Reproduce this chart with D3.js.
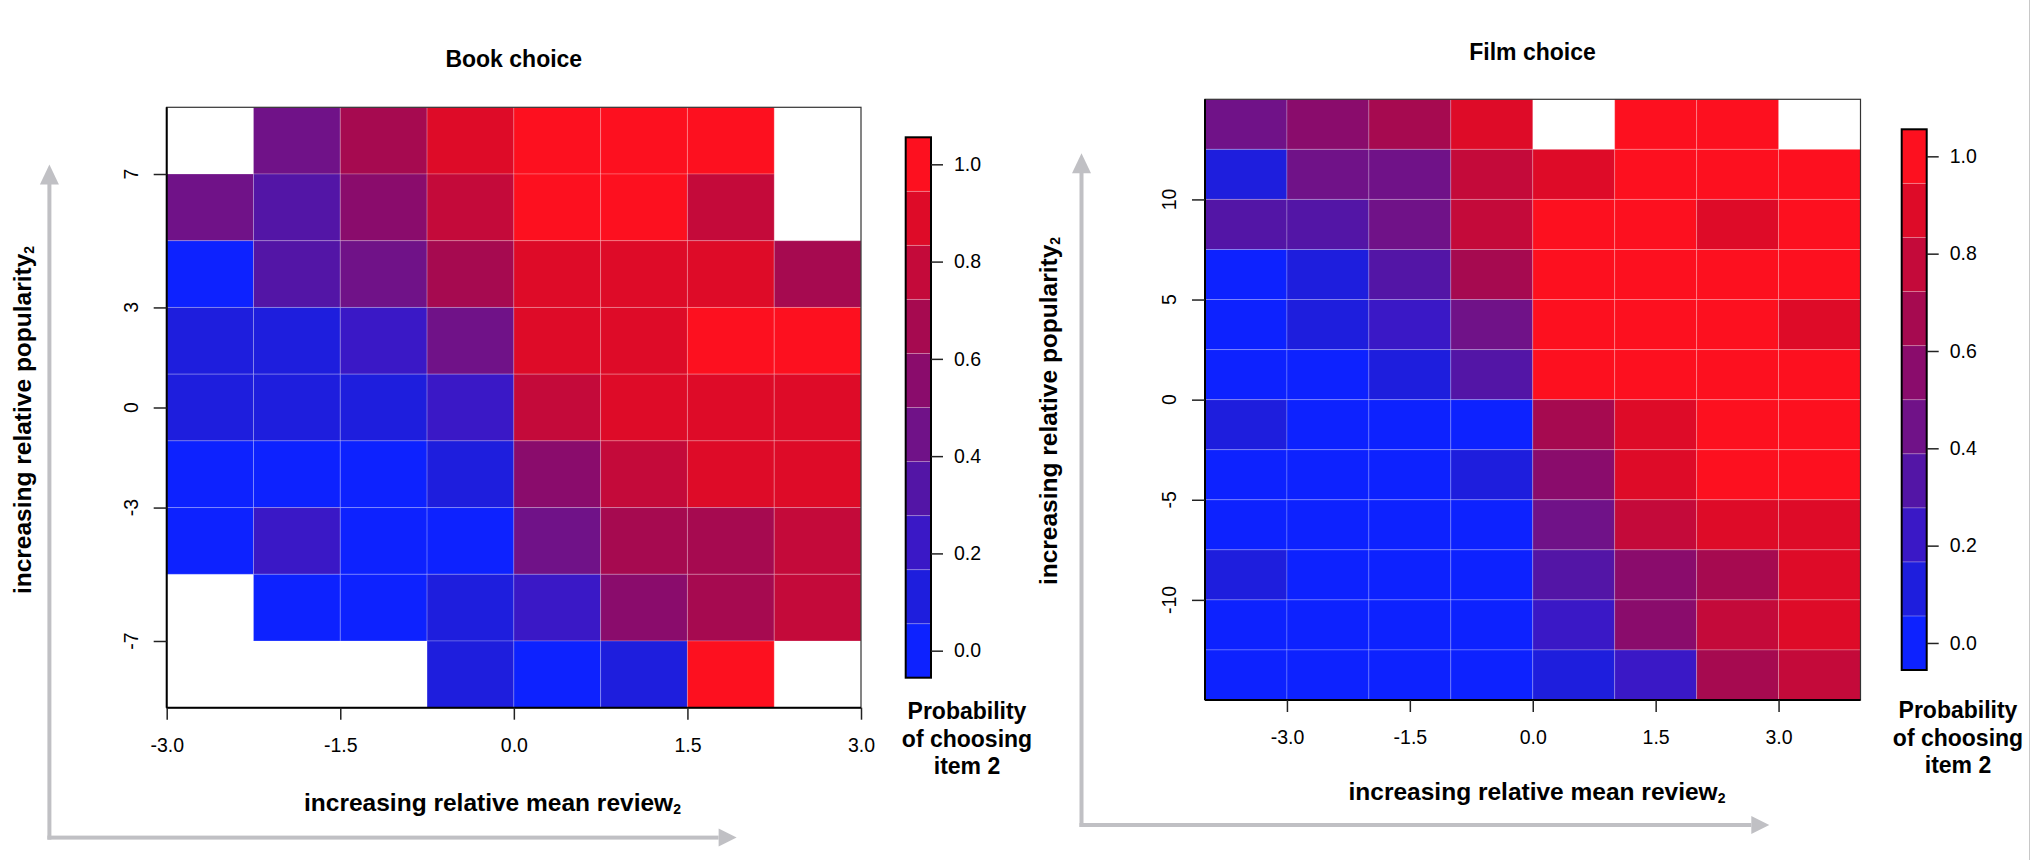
<!DOCTYPE html>
<html>
<head>
<meta charset="utf-8" />
<title>Book and film choice</title>
<script src="https://cdn.jsdelivr.net/npm/d3@7"></script>
<style>
  html, body { margin: 0; padding: 0; background: #fff; }
  svg { display: block; font-family: "Liberation Sans", Arial, Helvetica, sans-serif; }
</style>
</head>
<body>
<svg id="chart" width="2030" height="860"></svg>
<script>
// ---- data (probability of choosing item 2; null = no data) ----
var bookReviewEdges = [-3, -2.25, -1.5, -0.75, 0, 0.75, 1.5, 2.25, 3];
var bookPopularityEdges = [9, 7, 5, 3, 1, -1, -3, -5, -7, -9];
var bookProb = [
  [null, 0.44, 0.67, 0.89, 1.00, 1.00, 1.00, null],
  [0.44, 0.33, 0.56, 0.78, 1.00, 1.00, 0.78, null],
  [0.00, 0.33, 0.44, 0.67, 0.89, 0.89, 0.89, 0.67],
  [0.11, 0.11, 0.22, 0.44, 0.89, 0.89, 1.00, 1.00],
  [0.11, 0.11, 0.11, 0.22, 0.78, 0.89, 0.89, 0.89],
  [0.00, 0.00, 0.00, 0.11, 0.56, 0.78, 0.89, 0.89],
  [0.00, 0.22, 0.00, 0.00, 0.44, 0.67, 0.67, 0.78],
  [null, 0.00, 0.00, 0.11, 0.22, 0.56, 0.67, 0.78],
  [null, null, null, 0.11, 0.00, 0.11, 1.00, null]
];
var bookXTicks = [-3, -1.5, 0, 1.5, 3];
var bookYTicks = [7, 3, 0, -3, -7];

var filmReviewEdges = [-4, -3, -2, -1, 0, 1, 2, 3, 4];
var filmPopularityEdges = [15, 12.5, 10, 7.5, 5, 2.5, 0, -2.5, -5, -7.5, -10, -12.5, -15];
var filmProb = [
  [0.44, 0.56, 0.67, 0.89, null, 1.00, 1.00, null],
  [0.11, 0.44, 0.44, 0.78, 0.89, 1.00, 1.00, 1.00],
  [0.33, 0.33, 0.44, 0.78, 1.00, 1.00, 0.89, 1.00],
  [0.00, 0.11, 0.33, 0.67, 1.00, 1.00, 1.00, 1.00],
  [0.00, 0.11, 0.22, 0.44, 1.00, 1.00, 1.00, 0.89],
  [0.00, 0.00, 0.11, 0.33, 1.00, 1.00, 1.00, 1.00],
  [0.11, 0.00, 0.00, 0.00, 0.67, 0.89, 1.00, 1.00],
  [0.00, 0.00, 0.00, 0.11, 0.56, 0.89, 1.00, 1.00],
  [0.00, 0.00, 0.00, 0.00, 0.44, 0.78, 0.89, 0.89],
  [0.11, 0.00, 0.00, 0.00, 0.33, 0.56, 0.67, 0.89],
  [0.00, 0.00, 0.00, 0.00, 0.22, 0.56, 0.78, 0.89],
  [0.00, 0.00, 0.00, 0.00, 0.11, 0.22, 0.67, 0.78]
];
var filmXTicks = [-3, -1.5, 0, 1.5, 3];
var filmYTicks = [10, 5, 0, -5, -10];

var legendTicks = [0, 0.2, 0.4, 0.6, 0.8, 1.0];

// blue -> red palette, 10 levels
var palette = ["#0d22ff", "#1e1edd", "#3a18c6", "#5315a6", "#701288",
               "#8a0c6c", "#a60a50", "#c40a3a", "#de0b28", "#fd101f"];
var color = d3.scaleQuantize().domain([-1 / 18, 1 + 1 / 18]).range(palette);

var svg = d3.select("#chart");
var arrowGrey = "#c0c0c4";
var fmt1 = function(d) { return d.toFixed(1); };

// image right border
svg.append("line")
  .attr("x1", 2029.5).attr("x2", 2029.5).attr("y1", 0).attr("y2", 860)
  .attr("stroke", "#c8c8c8").attr("stroke-width", 1);

function drawPanel(p) {
  var x = d3.scaleLinear().domain(p.xDomain).range([p.left, p.right]);
  var y = d3.scaleLinear().domain(p.yDomain).range([p.bottom, p.top]);
  var g = svg.append("g");

  // grey guide arrows
  var a = g.append("g").attr("fill", arrowGrey).attr("stroke", "none");
  a.append("rect").attr("x", p.arrowX - 2).attr("y", p.arrowTop + 18)
    .attr("width", 4).attr("height", p.arrowY - p.arrowTop - 16);
  a.append("path").attr("d", "M" + p.arrowX + "," + p.arrowTop + " L" + (p.arrowX - 9.5) + "," + (p.arrowTop + 20) +
    " L" + (p.arrowX + 9.5) + "," + (p.arrowTop + 20) + " Z");
  a.append("rect").attr("x", p.arrowX - 2).attr("y", p.arrowY - 2)
    .attr("width", p.arrowRight - p.arrowX - 16).attr("height", 4);
  a.append("path").attr("d", "M" + p.arrowRight + "," + p.arrowY + " L" + (p.arrowRight - 18) + "," + (p.arrowY - 9) +
    " L" + (p.arrowRight - 18) + "," + (p.arrowY + 9) + " Z");

  // cells
  var cells = [];
  p.prob.forEach(function(row, r) {
    row.forEach(function(v, c) {
      if (v !== null) cells.push({ r: r, c: c, v: v });
    });
  });
  g.append("g").selectAll("rect").data(cells).enter().append("rect")
    .attr("x", function(d) { return x(p.xEdges[d.c]); })
    .attr("y", function(d) { return y(p.yEdges[d.r]); })
    .attr("width", function(d) { return x(p.xEdges[d.c + 1]) - x(p.xEdges[d.c]); })
    .attr("height", function(d) { return y(p.yEdges[d.r + 1]) - y(p.yEdges[d.r]); })
    .attr("fill", function(d) { return color(d.v); })
    .attr("stroke", "rgba(255,255,255,0.22)")
    .attr("stroke-width", 1);

  // frame
  g.append("rect").attr("x", p.left).attr("y", p.top)
    .attr("width", p.right - p.left).attr("height", p.bottom - p.top)
    .attr("fill", "none").attr("stroke", "#333").attr("stroke-width", 1.2);

  // x axis
  var xa = g.append("g").attr("transform", "translate(0," + p.bottom + ")")
    .call(d3.axisBottom(x).tickValues(p.xTicks).tickFormat(fmt1).tickSize(12).tickPadding(18));
  xa.select(".domain").attr("stroke", "#000").attr("stroke-width", 2).attr("d", "M" + p.left + ",0H" + p.right);
  xa.selectAll(".tick line").attr("stroke", "#222").attr("stroke-width", 1.5);
  xa.selectAll("text").attr("font-size", 19.5).attr("fill", "#000").attr("font-family", null);

  // y axis (rotated labels)
  var ya = g.append("g").attr("transform", "translate(" + p.left + ",0)")
    .call(d3.axisLeft(y).tickValues(p.yTicks).tickSize(13).tickFormat(""));
  ya.select(".domain").attr("stroke", "#000").attr("stroke-width", 2).attr("d", "M0," + p.top + "V" + p.bottom);
  ya.selectAll(".tick line").attr("stroke", "#222").attr("stroke-width", 1.5);
  g.append("g").selectAll("text").data(p.yTicks).enter().append("text")
    .attr("transform", function(d) { return "translate(" + (p.left - 29) + "," + y(d) + ") rotate(-90)"; })
    .attr("text-anchor", "middle")
    .attr("font-size", 19.5)
    .text(function(d) { return String(d); });

  // title
  g.append("text").attr("x", p.titleX).attr("y", p.titleY)
    .attr("text-anchor", "middle").attr("font-size", 23).attr("font-weight", "bold")
    .text(p.title);

  // axis labels
  var xl = g.append("text").attr("x", p.xLabelX).attr("y", p.xLabelY)
    .attr("text-anchor", "middle").attr("font-size", 24.5).attr("font-weight", "bold")
    .text("increasing relative mean review");
  xl.append("tspan").attr("font-size", 14).attr("dy", 3).text("2");

  var yl = g.append("text")
    .attr("transform", "translate(" + p.yLabelX + "," + p.yLabelY + ") rotate(-90)")
    .attr("text-anchor", "middle").attr("font-size", 24.5).attr("font-weight", "bold")
    .text("increasing relative popularity");
  yl.append("tspan").attr("font-size", 14).attr("dy", 3).text("2");

  // colour bar
  var lg = d3.scaleLinear().domain([-1 / 18, 1 + 1 / 18]).range([p.cbBottom, p.cbTop]);
  var step = 1 / 9;
  var cb = g.append("g");
  cb.selectAll("rect").data(palette).enter().append("rect")
    .attr("x", p.cbLeft)
    .attr("y", function(d, i) { return lg(i * step + step / 2); })
    .attr("width", p.cbRight - p.cbLeft)
    .attr("height", function(d, i) { return lg(i * step - step / 2) - lg(i * step + step / 2); })
    .attr("fill", function(d) { return d; })
    .attr("stroke", "rgba(255,255,255,0.2)").attr("stroke-width", 1);
  cb.append("rect").attr("x", p.cbLeft).attr("y", p.cbTop)
    .attr("width", p.cbRight - p.cbLeft).attr("height", p.cbBottom - p.cbTop)
    .attr("fill", "none").attr("stroke", "#000").attr("stroke-width", 2);
  var ca = cb.append("g").attr("transform", "translate(" + p.cbRight + ",0)")
    .call(d3.axisRight(lg).tickValues(legendTicks).tickFormat(fmt1).tickSize(12).tickPadding(11));
  ca.select(".domain").remove();
  ca.selectAll(".tick line").attr("stroke", "#222").attr("stroke-width", 1.5);
  ca.selectAll("text").attr("font-size", 19.5).attr("fill", "#000").attr("font-family", null);

  var lt = g.append("text").attr("text-anchor", "middle")
    .attr("font-size", 23).attr("font-weight", "bold");
  ["Probability", "of choosing", "item 2"].forEach(function(s, i) {
    lt.append("tspan").attr("x", p.cbTextX).attr("y", p.cbTextY + i * 27.5).text(s);
  });
}

drawPanel({
  title: "Book choice", titleX: 513.8, titleY: 67,
  xEdges: bookReviewEdges, yEdges: bookPopularityEdges, prob: bookProb,
  xDomain: [-3, 3], yDomain: [-9, 9], xTicks: bookXTicks, yTicks: bookYTicks,
  left: 166.7, right: 861, top: 107.3, bottom: 707.7,
  xLabelX: 492.5, xLabelY: 810.5, yLabelX: 31, yLabelY: 420,
  arrowX: 49.4, arrowY: 837.6, arrowTop: 164.6, arrowRight: 736.6,
  cbLeft: 905.7, cbRight: 931, cbTop: 137.3, cbBottom: 677.7,
  cbTextX: 967, cbTextY: 719
});

drawPanel({
  title: "Film choice", titleX: 1532.5, titleY: 60,
  xEdges: filmReviewEdges, yEdges: filmPopularityEdges, prob: filmProb,
  xDomain: [-4, 4], yDomain: [-15, 15], xTicks: filmXTicks, yTicks: filmYTicks,
  left: 1205, right: 1860.5, top: 99.3, bottom: 700,
  xLabelX: 1537, xLabelY: 800, yLabelX: 1057, yLabelY: 411,
  arrowX: 1081.5, arrowY: 825, arrowTop: 153.3, arrowRight: 1769.3,
  cbLeft: 1901.7, cbRight: 1926.7, cbTop: 129.3, cbBottom: 670,
  cbTextX: 1958, cbTextY: 718
});
</script>
</body>
</html>
